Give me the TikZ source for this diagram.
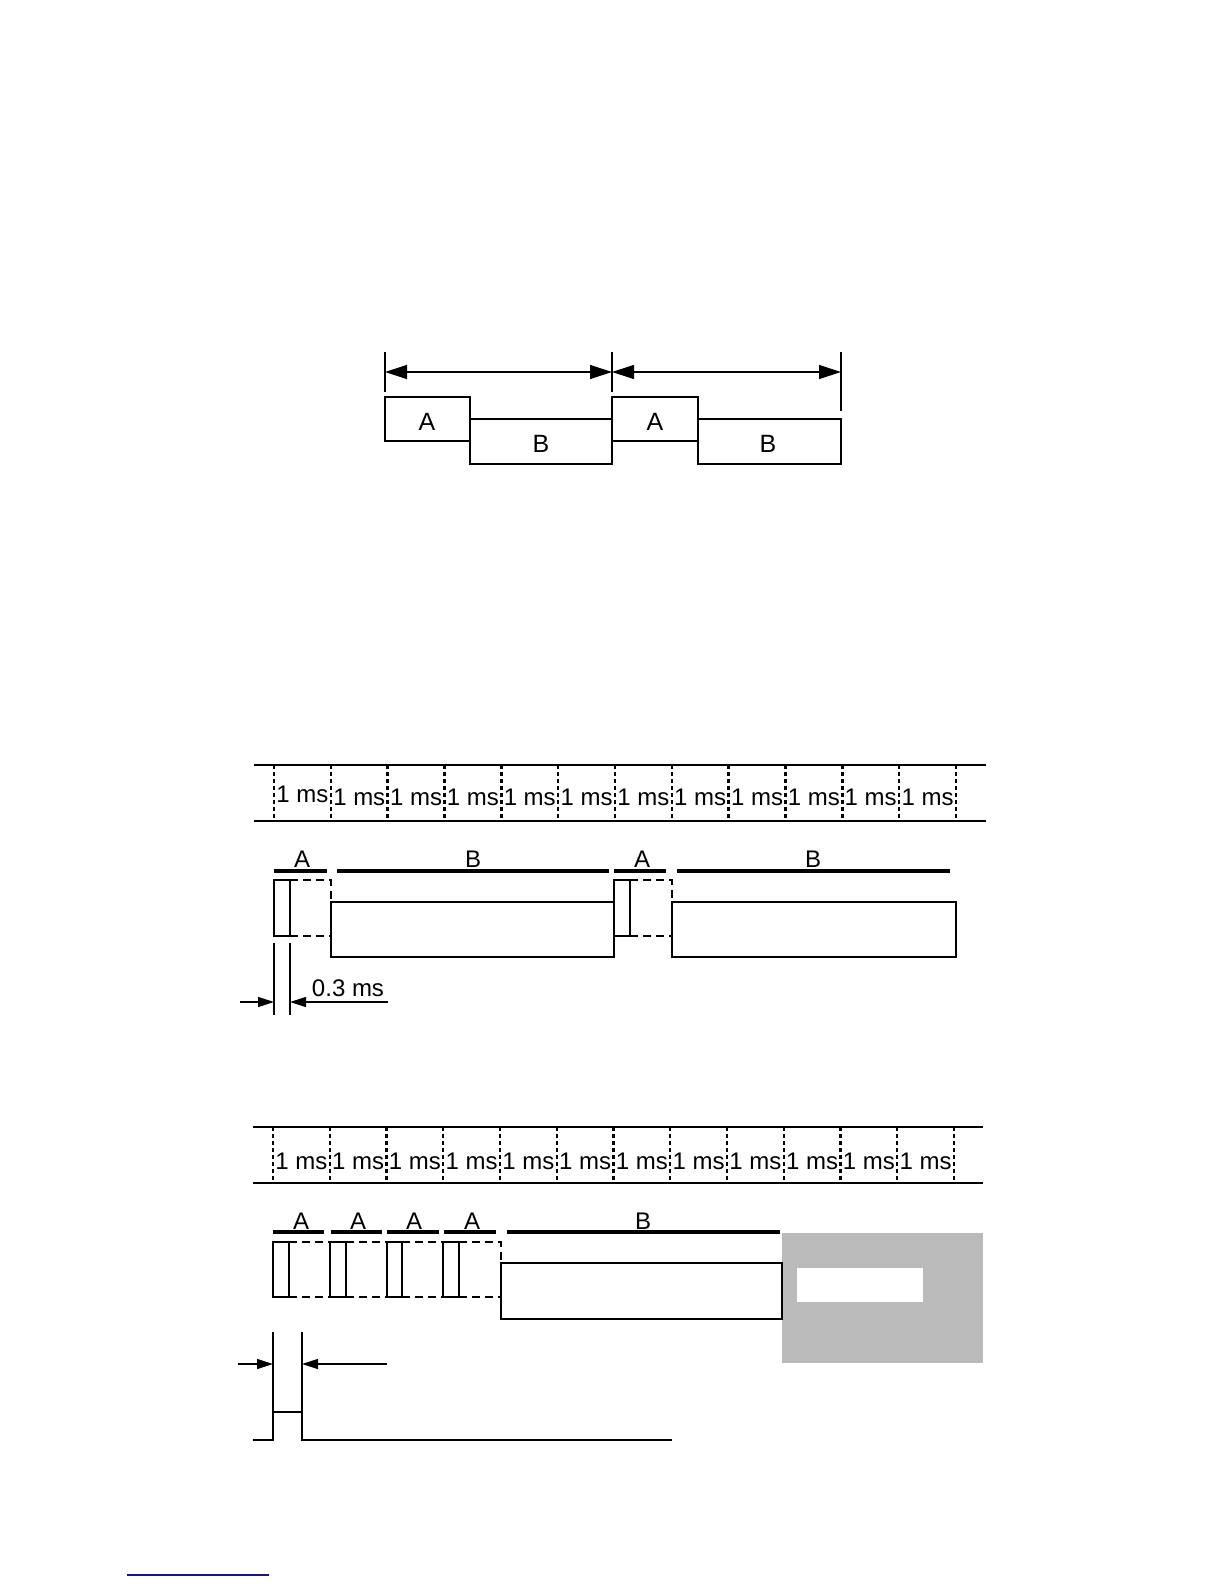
\documentclass[tikz,border=0pt]{standalone}
\usepackage{fontspec}
\setmainfont{Liberation Sans}
\usetikzlibrary{arrows.meta}
\definecolor{linkblue}{RGB}{20,20,140}
\tikzset{
    box/.style={line width=1.3pt},
    hair/.style={line width=0.6pt},
    ruler/.style={line width=1.2pt, dash pattern=on 2pt off 1.5pt},
    gapline/.style={line width=1.2pt, dash pattern=on 4pt off 2.5pt},
    lane/.style={line width=2.4pt},
    biglbl/.style={inner sep=0pt, font=\fontsize{12.5}{14}\selectfont},
    lbl/.style={inner sep=0pt, font=\fontsize{12}{14}\selectfont},
    stipple/.style={fill=black!27},
}
\begin{document}
\begin{tikzpicture}[x=0.5pt, y=-0.5pt, >={Triangle[length=8pt,width=5pt]}]
    \useasboundingbox (0,0) rectangle (1224,1584);
    % frame period
    \draw[hair] (385,352) -- (385,392);
    \draw[hair] (612,352) -- (612,392);
    \draw[hair] (841,352) -- (841,411);
    \draw[hair,<->,>={Triangle[length=11pt,width=7pt]}] (385,372) -- (612,372);
    \draw[hair,<->,>={Triangle[length=11pt,width=7pt]}] (612,372) -- (841,372);
    \draw[box] (385,397) rectangle (470,441);
    \draw[box] (470,419) rectangle (612,464);
    \draw[box] (612,397) rectangle (698,441);
    \draw[box] (698,419) rectangle (841,464);
    \node[biglbl] (topA1) at (427,422) {A};
    \node[biglbl] (topB1) at (541,444) {B};
    \node[biglbl] (topA2) at (655,422) {A};
    \node[biglbl] (topB2) at (768,444) {B};

    % first timing chart
    \draw[box] (254,765) -- (986,765);
    \draw[box] (254,821) -- (986,821);
    \foreach \i in {0,...,12}
        \draw[ruler] (274+56.83*\i,765) -- (274+56.83*\i,821);
    \node[lbl] (msA1) at (302.4,794) {1 ms};
    \foreach \i in {2,...,12}
        \node[lbl] (msA\i) at (245.6+56.83*\i,797) {1 ms};
    \draw[lane] (274,871) -- (327,871);
    \draw[lane] (337,871) -- (609,871);
    \draw[lane] (614,871) -- (666,871);
    \draw[lane] (677,871) -- (950,871);
    \node[lbl] (chA1) at (302,859) {A};
    \node[lbl] (chB1) at (473,859) {B};
    \node[lbl] (chA2) at (642,859) {A};
    \node[lbl] (chB2) at (813,859) {B};
    \draw[box] (274,880) rectangle (290,936);
    \draw[gapline] (290,880) -- (331,880) -- (331,902);
    \draw[gapline] (290,936) -- (331,936);
    \draw[box] (331,902) rectangle (614,957);
    \draw[box] (614,880) rectangle (630,936);
    \draw[gapline] (630,880) -- (672,880) -- (672,902);
    \draw[gapline] (630,936) -- (672,936);
    \draw[box] (672,902) rectangle (956,957);
    \draw[hair] (274,943) -- (274,1015);
    \draw[hair] (290,943) -- (290,1015);
    \draw[hair,->] (240,1002) -- (274,1002);
    \draw[hair,->] (388,1002) -- (290,1002);
    \node[lbl] (widthA) at (348,988) {0.3 ms};

    % second timing chart
    \draw[box] (253,1127) -- (983,1127);
    \draw[box] (253,1183) -- (983,1183);
    \foreach \i in {0,...,12}
        \draw[ruler] (273+56.75*\i,1127) -- (273+56.75*\i,1183);
    \foreach \i in {1,...,12}
        \node[lbl] (msB\i) at (244.6+56.75*\i,1161) {1 ms};
    \draw[lane] (273,1232) -- (324,1232);
    \draw[lane] (331,1232) -- (382,1232);
    \draw[lane] (387,1232) -- (439,1232);
    \draw[lane] (444,1232) -- (496,1232);
    \draw[lane] (507,1232) -- (780,1232);
    \node[lbl] (ckA1) at (301,1221) {A};
    \node[lbl] (ckA2) at (358,1221) {A};
    \node[lbl] (ckA3) at (414,1221) {A};
    \node[lbl] (ckA4) at (472,1221) {A};
    \node[lbl] (ckB1) at (643,1221) {B};
    \draw[box] (273,1242) rectangle (289,1297);
    \draw[box] (330,1242) rectangle (346,1297);
    \draw[box] (387,1242) rectangle (402,1297);
    \draw[box] (443,1242) rectangle (459,1297);
    \draw[gapline] (289,1242) -- (330,1242);
    \draw[gapline] (346,1242) -- (387,1242);
    \draw[gapline] (402,1242) -- (443,1242);
    \draw[gapline] (459,1242) -- (501,1242) -- (501,1263);
    \draw[gapline] (289,1297) -- (330,1297);
    \draw[gapline] (346,1297) -- (387,1297);
    \draw[gapline] (402,1297) -- (443,1297);
    \draw[gapline] (459,1297) -- (501,1297);
    \fill[stipple] (782,1233) rectangle (983,1363);
    \fill[white] (797,1268) rectangle (923,1302);
    \draw[box] (501,1263) rectangle (782,1319);
    \draw[hair] (273,1332) -- (273,1412);
    \draw[hair] (302,1332) -- (302,1412);
    \draw[hair,->] (238,1364) -- (273,1364);
    \draw[hair,->] (387,1364) -- (302,1364);
    \draw[box] (253,1440) -- (273,1440) -- (273,1412) -- (302,1412) -- (302,1440) -- (672,1440);

    \draw[linkblue, line width=1pt] (127,1575) -- (269,1575);
\end{tikzpicture}
\end{document}
